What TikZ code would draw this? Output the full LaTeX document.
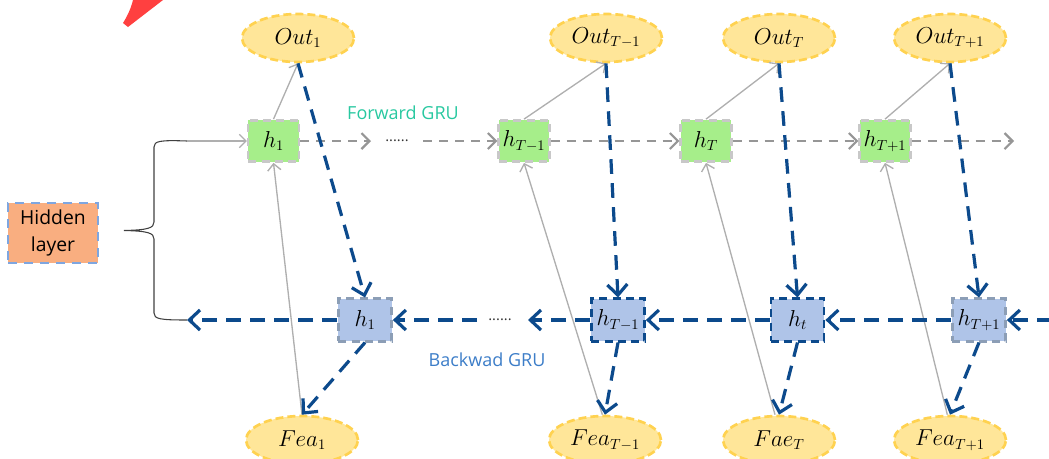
\documentclass[tikz,border=0pt]{standalone}
\usepackage{amssymb,amsmath}
\usepackage{fontspec}
\setsansfont{Open Sans}
\usetikzlibrary{arrows.meta,shapes.geometric}

\definecolor{yelfill}{RGB}{255,230,153}
\definecolor{yeldraw}{RGB}{255,210,80}
\definecolor{grnfill}{RGB}{166,238,138}
\definecolor{grnedge}{RGB}{200,200,200}
\definecolor{blufill}{RGB}{175,196,232}
\definecolor{bluedge}{RGB}{140,158,182}
\definecolor{navy}{RGB}{12,74,140}
\definecolor{fwdgray}{RGB}{150,150,150}
\definecolor{thingray}{RGB}{175,175,175}
\definecolor{hidfill}{RGB}{249,174,128}
\definecolor{hidedge}{RGB}{126,166,224}
\definecolor{fwdtxt}{RGB}{40,200,160}
\definecolor{bwdtxt}{RGB}{60,125,200}
\definecolor{redc}{RGB}{255,64,64}

\tikzset{
  outnode/.style={ellipse, fill=yelfill, draw=yeldraw, line width=2pt, dash pattern=on 6pt off 3pt,
    minimum width=84pt, minimum height=36pt, inner sep=0pt, font=\fontsize{16}{18}\selectfont},
  fwdbox/.style={rectangle, fill=grnfill, draw=grnedge, line width=1.8pt, dash pattern=on 6pt off 4pt,
    minimum width=38pt, minimum height=31pt, inner sep=0pt, font=\fontsize{16}{18}\selectfont},
  bwdbox/.style={rectangle, fill=blufill, draw=bluedge, line width=1.8pt, dash pattern=on 6pt off 4pt,
    minimum width=40pt, minimum height=32pt, inner sep=0pt, font=\fontsize{16}{18}\selectfont},
  bwdboxdark/.style={bwdbox, draw=navy},
  thinarr/.style={draw=thingray, line width=1pt, -{Straight Barb[length=5pt,width=10pt]}},
  fwdarr/.style={draw=fwdgray, line width=1.6pt, dash pattern=on 7pt off 5pt, -{Straight Barb[length=6pt,width=12pt]}},
  bwdarr/.style={draw=navy, line width=2.4pt, dash pattern=on 11pt off 7pt, -{Straight Barb[length=8pt,width=15pt]}},
  dots/.style={font=\sffamily\fontsize{11}{12}\selectfont, text=black!80, inner sep=0pt},
}

\begin{document}
\begin{tikzpicture}[x=0.75pt,y=0.75pt,yscale=-1,xscale=1]
\path[use as bounding box] (0,0) rectangle (1049,458);

%Shape: red corner
\fill[redc] (123,23) .. controls (128,15) and (131,8) .. (133,0) -- (163,0) -- (128,27) -- cycle;

%Hidden layer box
\node[rectangle, fill=hidfill, draw=hidedge, line width=2.2pt, dash pattern=on 7pt off 5pt,
  minimum width=67.5pt, minimum height=45pt, align=center,
  font=\sffamily\fontsize{14.5}{20}\selectfont] (hid) at (53,233) {Hidden\\layer};

%Outputs
\node[outnode] (o1) at (298,38) {$Out_1$};
\node[outnode] (o2) at (606,38) {$Out_{T-1}$};
\node[outnode] (o3) at (779,38) {$Out_T$};
\node[outnode] (o4) at (950,38) {$Out_{T+1}$};

%Forward hidden states
\node[fwdbox] (f1) at (273.5,141) {$h_1$};
\node[fwdbox] (f2) at (524,141) {$h_{T-1}$};
\node[fwdbox] (f3) at (706,141) {$h_T$};
\node[fwdbox] (f4) at (885,141) {$h_{T+1}$};

%Backward hidden states
\node[bwdbox] (b1) at (365,320) {$h_1$};
\node[bwdboxdark] (b2) at (618,320) {$h_{T-1}$};
\node[bwdboxdark] (b3) at (797.5,320) {$h_t$};
\node[bwdbox] (b4) at (979,320) {$h_{T+1}$};

%Features
\node[outnode] (e1) at (302,440) {$Fea_1$};
\node[outnode] (e2) at (605,440) {$Fea_{T-1}$};
\node[outnode] (e3) at (779,440) {$Fae_T$};
\node[outnode] (e4) at (950,440) {$Fea_{T+1}$};

% Text Node
\node[font=\sffamily\fontsize{13.5}{16}\selectfont, text=fwdtxt] (fgru) at (403,113) {Forward GRU};
% Text Node
\node[font=\sffamily\fontsize{13.5}{16}\selectfont, text=bwdtxt] (bgru) at (487,360) {Backwad GRU};
\node[dots] (dotf) at (397,141) {......};
\node[dots] (dotb) at (500,320) {......};

\coordinate (brtop) at (187,141);
\coordinate (brbot) at (187,320);
\coordinate (fd1) at (371,141);
\coordinate (fd2) at (423,141);
\coordinate (fend) at (1014,141);
\coordinate (bstart) at (1052,320);
\coordinate (bd1) at (528,320);
\coordinate (bd2) at (477,320);

%Brace
\draw[black!75, line width=0.8pt] (brtop) .. controls (160,140) and (154,141) .. (154,147) -- (154,222)
  .. controls (154,228) and (148,230) .. (124,230.5) .. controls (148,231) and (154,233) .. (154,239)
  -- (154,313) .. controls (154,319) and (160,320) .. (brbot);

%Straight Lines: gray solid
\draw[thinarr] (brtop) -- (f1.west);
\draw[thinarr] (f1.north) -- (o1.south);
\draw[thinarr] (f2.north) -- (o2.south);
\draw[thinarr] (f3.north) -- (o3.south);
\draw[thinarr] (f4.north) -- (o4.south);
\draw[thinarr] (e1.north) -- (f1.south);
\draw[thinarr] ([xshift=-2pt]e2.north) -- (f2.south);
\draw[thinarr] ([xshift=-3pt]e3.north) -- (f3.south);
\draw[thinarr] ([xshift=-2pt]e4.north) -- (f4.south);

%Straight Lines: forward GRU
\draw[fwdarr] (f1.east) -- (fd1);
\draw[fwdarr] (fd2) -- (f2.west);
\draw[fwdarr] (f2.east) -- (f3.west);
\draw[fwdarr] (f3.east) -- (f4.west);
\draw[fwdarr] (f4.east) -- (fend);

%Straight Lines: outputs to backward GRU
\draw[bwdarr] (o1.south) -- (b1.north);
\draw[bwdarr] (o2.south) -- (b2.north);
\draw[bwdarr] (o3.south) -- (b3.north);
\draw[bwdarr] (o4.south) -- (b4.north);

%Straight Lines: backward GRU to features
\draw[bwdarr] (b1.south) -- (e1.north);
\draw[bwdarr] (b2.south) -- (e2.north);
\draw[bwdarr] (b3.south) -- (e3.north);
\draw[bwdarr] (b4.south) -- (e4.north);

%Straight Lines: backward GRU
\draw[bwdarr] (bstart) -- (b4.east);
\draw[bwdarr] (b4.west) -- (b3.east);
\draw[bwdarr] (b3.west) -- (b2.east);
\draw[bwdarr] (b2.west) -- (bd1);
\draw[bwdarr] (bd2) -- (b1.east);
\draw[bwdarr] (b1.west) -- (brbot);

\end{tikzpicture}
\end{document}
